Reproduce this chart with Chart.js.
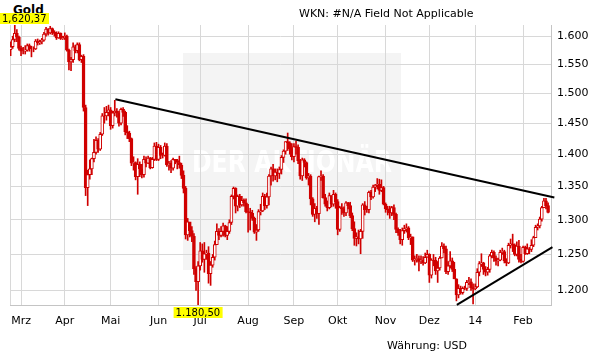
<!DOCTYPE html>
<html><head><meta charset="utf-8">
<script src="https://cdn.jsdelivr.net/npm/chart.js@4.4.1/dist/chart.umd.min.js"></script>
<style>
html,body{margin:0;padding:0;background:#fff;}
#wrap{position:relative;width:611px;height:364px;overflow:hidden;}
canvas{position:absolute;left:0;top:0;z-index:1;}
.t{position:absolute;font-family:"DejaVu Sans",Verdana,sans-serif;font-size:11px;color:#000;white-space:nowrap;line-height:13px;}
</style></head><body>
<div id="wrap">
<div class="t" style="left:13px;top:4px;font-size:12px;font-weight:bold;z-index:0;">Gold</div>
<canvas id="c" width="611" height="364"></canvas>
<div class="t" style="left:299px;top:7px;z-index:2;">WKN: #N/A Field Not Applicable</div>
<div class="t" style="left:387px;top:339px;z-index:2;">Währung: USD</div>
</div>
<script>
// trading-day index (0 = 1 Mar 2013), first bar = 22 Feb 2013
const firstDay = -5;
const firstOpen = 1576;
const closes = [
 1581,1594,1605,1598,1578,
 1573,1573,1575,1583,1577,1577,1577,1591,1588,1590,1593,1604,1613,1606,1614,1607,1605,1597,1605,1596,1597,
 1600,1575,1554,1558,1581,1574,1585,1558,1564,1476,1348,1368,1377,1393,1403,1422,1408,1432,1462,1462,1468,1472,
 1446,1467,1470,1467,1450,1473,1468,1436,1434,1425,1386,1387,1365,1384,1377,1368,1392,1386,1394,1379,1392,1413,1392,
 1411,1398,1398,1413,1383,1386,1378,1392,1390,1387,1383,1367,1347,1278,1297,1284,1276,1230,1212,1234,
 1255,1243,1251,1252,1223,1235,1246,1264,1283,1277,1283,1291,1277,1283,1296,1335,1347,1320,1335,1322,1329,1325,1312,
 1311,1310,1302,1282,1285,1312,1313,1335,1321,1334,1366,1377,1366,1372,1370,1376,1395,1405,1420,1418,1409,1396,
 1412,1411,1390,1366,1391,1387,1363,1366,1331,1308,1317,1309,1365,1366,1333,1323,1318,1336,1323,1338,1327,
 1286,1318,1316,1310,1325,1321,1306,1287,1273,1275,1272,1283,1322,1315,1315,1341,1334,1349,1352,1353,1344,1348,1323,
 1316,1315,1310,1318,1308,1286,1281,1271,1284,1287,1288,1274,1275,1242,1243,1244,1240,1242,1238,1246,1250,
 1221,1242,1242,1227,1231,1245,1262,1258,1226,1234,1241,1229,1216,1194,1203,1197,1203,1203,1211,1212,1204,1202,
 1205,1225,1237,1238,1229,1225,1229,1248,1253,1245,1241,1242,1253,1254,1241,1238,1263,1265,1263,1250,1262,1243,1240,
 1260,1251,1258,1257,1263,1274,1289,1291,1301,1318,1328,1321,1311
];
const highs = [
 1590,1600,1620.37,1612,1600,
 1582,1580,1583,1586,1586,1582,1581,1594,1595,1593,1596,1607,1616,1614,1618,1615,1610,1608,1608,1606,1600,
 1606,1602,1577,1562,1588,1584,1588,1588,1566,1567,1480,1375,1391,1394,1424,1428,1425,1435,1466,1476,1478,1480,
 1476,1470,1488,1474,1470,1475,1476,1470,1446,1437,1426,1396,1388,1393,1388,1384,1397,1396,1397,1395,1395,1418,1419,
 1416,1414,1402,1418,1417,1389,1390,1394,1392,1392,1397,1386,1374,1350,1302,1296,1290,1280,1233,1240,
 1267,1265,1267,1256,1261,1240,1250,1269,1294,1287,1290,1295,1292,1290,1300,1337,1349,1348,1337,1338,1335,1331,1331,
 1323,1317,1314,1304,1293,1315,1323,1340,1338,1340,1368,1380,1384,1377,1377,1380,1398,1407,1420,1434,1420,1417,
 1417,1421,1415,1392,1394,1393,1388,1370,1368,1333,1324,1320,1366,1374,1368,1338,1328,1340,1336,1344,1340,
 1330,1320,1324,1319,1327,1326,1326,1310,1297,1281,1285,1286,1324,1327,1320,1343,1344,1352,1353,1362,1361,1360,1350,
 1325,1320,1320,1320,1322,1310,1288,1286,1288,1292,1294,1290,1279,1275,1248,1250,1248,1248,1247,1252,1256,
 1251,1244,1250,1246,1240,1247,1267,1265,1262,1240,1254,1245,1239,1216,1208,1206,1205,1206,1214,1218,1216,1209,
 1209,1230,1240,1251,1239,1233,1232,1250,1256,1255,1248,1245,1256,1259,1256,1244,1266,1272,1279,1265,1268,1270,1250,
 1262,1262,1265,1260,1271,1276,1292,1294,1304,1320,1332,1332,1325
];
const lows = [
 1565,1578,1590,1590,1575,
 1565,1568,1568,1573,1573,1563,1572,1576,1584,1585,1586,1591,1600,1602,1604,1603,1600,1594,1596,1594,1594,
 1594,1573,1540,1539,1553,1570,1570,1556,1553,1470,1336,1321,1361,1368,1388,1400,1403,1406,1430,1450,1455,1462,
 1440,1442,1462,1460,1445,1447,1461,1431,1425,1420,1382,1375,1360,1338,1365,1363,1364,1380,1385,1377,1378,1390,1390,
 1390,1393,1394,1397,1381,1375,1371,1375,1385,1377,1378,1362,1340,1272,1270,1275,1268,1222,1200,1180.5,
 1228,1239,1225,1243,1210,1207,1232,1242,1264,1271,1275,1276,1275,1271,1280,1293,1331,1310,1313,1318,1320,1320,1310,
 1282,1285,1299,1280,1270,1283,1307,1312,1315,1317,1322,1352,1358,1360,1357,1362,1369,1387,1400,1406,1400,1391,
 1388,1400,1385,1361,1359,1380,1361,1352,1322,1305,1297,1302,1293,1359,1332,1320,1313,1316,1319,1320,1317,
 1278,1283,1308,1305,1306,1316,1303,1284,1263,1262,1265,1251,1273,1307,1311,1310,1330,1332,1342,1346,1338,1342,1322,
 1311,1307,1302,1306,1300,1281,1277,1265,1263,1280,1282,1271,1264,1240,1235,1239,1227,1237,1235,1237,1246,
 1211,1217,1234,1222,1211,1228,1245,1252,1223,1222,1231,1226,1216,1186,1190,1195,1195,1201,1200,1208,1200,1182,
 1201,1204,1220,1233,1222,1220,1221,1225,1245,1240,1235,1234,1241,1250,1238,1234,1237,1259,1254,1248,1248,1239,1238,
 1239,1250,1250,1251,1254,1261,1274,1285,1288,1298,1318,1316,1310
];
const monthTicks  = [0,21,43,66,86,109,131,152,175,196,218,241];
const monthLabels = ['Mrz','Apr','Mai','Jun','Jul','Aug','Sep','Okt','Nov','Dez','14','Feb'];
const priceTicks  = [1200,1250,1300,1350,1400,1450,1500,1550,1600];
const trendUpper  = [{x:45.3, y:1490}, {x:256, y:1333}];
const trendLower  = [{x:209.2, y:1180.6}, {x:255.1, y:1260.4}];
const extremeLabels = {high:'1,620,37', low:'1.180,50'};
const xMin = -5.3, xMax = 254.4, yMin = 1180.5, yMax = 1620.37;

const RED = '#d00000';
const bodies = [], wicks = [], bodyFill = [];
for (let i = 0; i < closes.length; i++) {
  const d = firstDay + i;
  const o = i === 0 ? firstOpen : closes[i-1];
  const c = closes[i];
  bodies.push({x:d, y:[o, c]});
  wicks.push({x:d, y:[lows[i], highs[i]]});
  bodyFill.push(c > o ? '#ffffff' : RED);
}

function fmtPrice(v){ const t = Math.floor(v/1000); const r = Math.round(v - t*1000); return t + '.' + String(r).padStart(3,'0'); }

const deco = {
  id:'deco',
  beforeDraw(chart){
    const ctx = chart.ctx, a = chart.chartArea;
    ctx.save();
    ctx.fillStyle = '#f4f4f4';
    ctx.fillRect(a.left + 173, a.top + 28, 218, 217);
    ctx.fillStyle = '#ffffff';
    ctx.font = 'bold 31px "DejaVu Sans"';
    ctx.textAlign = 'center'; ctx.textBaseline = 'alphabetic';
    ctx.fillText('DER AKTIONÄR', a.left + 282, a.top + 147, 200);
    ctx.restore();
  },
  afterDraw(chart){
    const ctx = chart.ctx, xs = chart.scales.x, ys = chart.scales.y;
    ctx.save();
    ctx.font = '10px "DejaVu Sans"';
    ctx.textBaseline = 'middle'; ctx.textAlign = 'left';
    const hi = highs.indexOf(Math.max(...highs));
    const lo = lows.indexOf(Math.min(...lows));
    const put = (txt, px, top) => {
      const w = Math.ceil(ctx.measureText(txt).width) + 4;
      const left = Math.max(0, Math.min(chart.width - w, px - w/2));
      ctx.fillStyle = '#ffff00'; ctx.fillRect(left, top, w, 11);
      ctx.fillStyle = '#000'; ctx.fillText(txt, left + 2, top + 6);
    };
    put(extremeLabels.high, xs.getPixelForValue(firstDay+hi), ys.getPixelForValue(highs[hi]) - 12);
    put(extremeLabels.low, xs.getPixelForValue(firstDay+lo), ys.getPixelForValue(lows[lo]) + 2);
    ctx.restore();
  }
};

const GRID = '#d8d8d8', BORDER = '#c4c4c4';
new Chart(document.getElementById('c'), {
  type:'bar',
  data:{ datasets:[
    {type:'line', data:trendUpper, borderColor:'#000', borderWidth:2, pointRadius:0, order:0, clip:6},
    {type:'line', data:trendLower, borderColor:'#000', borderWidth:2, pointRadius:0, order:0, clip:6},
    {data:bodies, backgroundColor:bodyFill, borderColor:RED, borderWidth:1, borderSkipped:false, barThickness:3, grouped:false, order:1},
    {data:wicks, backgroundColor:RED, borderWidth:0, barThickness:1, grouped:false, order:2}
  ]},
  options:{
    responsive:false, animation:false, devicePixelRatio:1,
    layout:{padding:{left:10, top:25, right:0, bottom:0}},
    plugins:{legend:{display:false}, tooltip:{enabled:false}},
    scales:{
      x:{type:'linear', min:xMin, max:xMax, offset:false,
        grid:{color:GRID, drawTicks:false, offset:false},
        border:{display:true, color:BORDER},
        afterBuildTicks:s => { s.ticks = [xMin, ...monthTicks].map(v => ({value:v})); },
        afterFit:s => { s.height = 59; },
        ticks:{autoSkip:false, maxRotation:0, padding:10, color:'#000', font:{family:'DejaVu Sans', size:11},
          callback:v => { const k = monthTicks.indexOf(v); return k >= 0 ? monthLabels[k] : ''; }}
      },
      y:{type:'logarithmic', position:'right', min:yMin, max:yMax,
        grid:{color:GRID, drawTicks:false},
        border:{display:true, color:BORDER},
        afterBuildTicks:s => { s.ticks = priceTicks.map(v => ({value:v})); },
        afterFit:s => { s.width = 60; },
        ticks:{padding:6, color:'#000', font:{family:'DejaVu Sans', size:11}, callback:v => fmtPrice(v)}
      }
    }
  },
  plugins:[deco]
});
</script>
</body></html>
